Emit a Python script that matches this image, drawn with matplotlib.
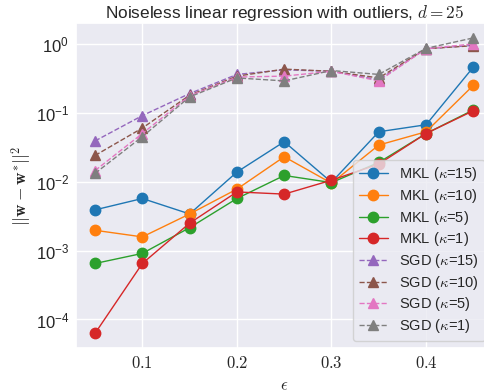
import matplotlib
matplotlib.use("Agg")
import matplotlib.pyplot as plt
import matplotlib.ticker as mticker
import seaborn as sns

sns.set_theme(style="darkgrid")
plt.rcParams['mathtext.fontset'] = 'cm'
plt.rcParams['font.family'] = ['Liberation Sans', 'DejaVu Sans']

eps = [0.05, 0.1, 0.15, 0.2, 0.25, 0.3, 0.35, 0.4, 0.45]

mkl15 = [3.9e-3, 5.7e-3, 3.4e-3, 1.38e-2, 3.8e-2, 9.8e-3, 5.3e-2, 6.7e-2, 0.46]
mkl10 = [1.97e-3, 1.58e-3, 3.4e-3, 7.8e-3, 2.3e-2, 9.5e-3, 3.4e-2, 5.3e-2, 0.25]
mkl5 = [6.5e-4, 9.1e-4, 2.15e-3, 5.7e-3, 1.23e-2, 9.7e-3, 1.9e-2, 5.0e-2, 0.11]
mkl1 = [6.3e-5, 6.5e-4, 2.5e-3, 7.1e-3, 6.6e-3, 1.05e-2, 1.8e-2, 5.0e-2, 0.107]

sgd15 = [0.039, 0.091, 0.19, 0.36, 0.42, 0.40, 0.30, 0.85, 0.95]
sgd10 = [0.024, 0.060, 0.18, 0.34, 0.43, 0.40, 0.32, 0.85, 0.94]
sgd5 = [0.0145, 0.050, 0.176, 0.33, 0.34, 0.40, 0.29, 0.85, 1.0]
sgd1 = [0.0132, 0.045, 0.17, 0.32, 0.29, 0.41, 0.36, 0.86, 1.22]

kappas = [15, 10, 5, 1]
mkl_series = [mkl15, mkl10, mkl5, mkl1]
sgd_series = [sgd15, sgd10, sgd5, sgd1]
mkl_colors = ['#1f77b4', '#ff7f0e', '#2ca02c', '#d62728']
sgd_colors = ['#9467bd', '#8c564b', '#e377c2', '#7f7f7f']

fig = plt.figure(figsize=(4.85, 3.92), dpi=100)
ax = fig.add_axes([0.157, 0.112, 0.858, 0.829])

for k, s, c in zip(kappas, mkl_series, mkl_colors):
    ax.plot(eps, s, marker='o', linestyle='-', linewidth=1, markersize=7.5,
            color=c, label=r'MKL ($\kappa$=%d)' % k)
for k, s, c in zip(kappas, sgd_series, sgd_colors):
    ax.plot(eps, s, marker='^', linestyle='--', linewidth=1, markersize=7.5,
            color=c, label=r'SGD ($\kappa$=%d)' % k)

ax.set_yscale('log')
ax.set_title(r'Noiseless linear regression with outliers, $d=25$', fontsize=12.4, pad=4)
ax.set_xlabel(r'$\epsilon$', fontsize=12, labelpad=5)
ax.set_ylabel(r'$||\mathbf{w}-\mathbf{w}^{*}||^2$', fontsize=12.5, labelpad=1)
ax.tick_params(labelsize=12, pad=5, length=0)
ax.set_xticks([0.1, 0.2, 0.3, 0.4])
ax.xaxis.set_major_formatter(mticker.FuncFormatter(lambda v, p: r'$%.1f$' % v))
ax.legend(loc='lower right', fontsize=10.5, handlelength=2.0, labelspacing=0.25,
          borderaxespad=0.5, borderpad=0.4)

fig.savefig('out.png', dpi=100)
